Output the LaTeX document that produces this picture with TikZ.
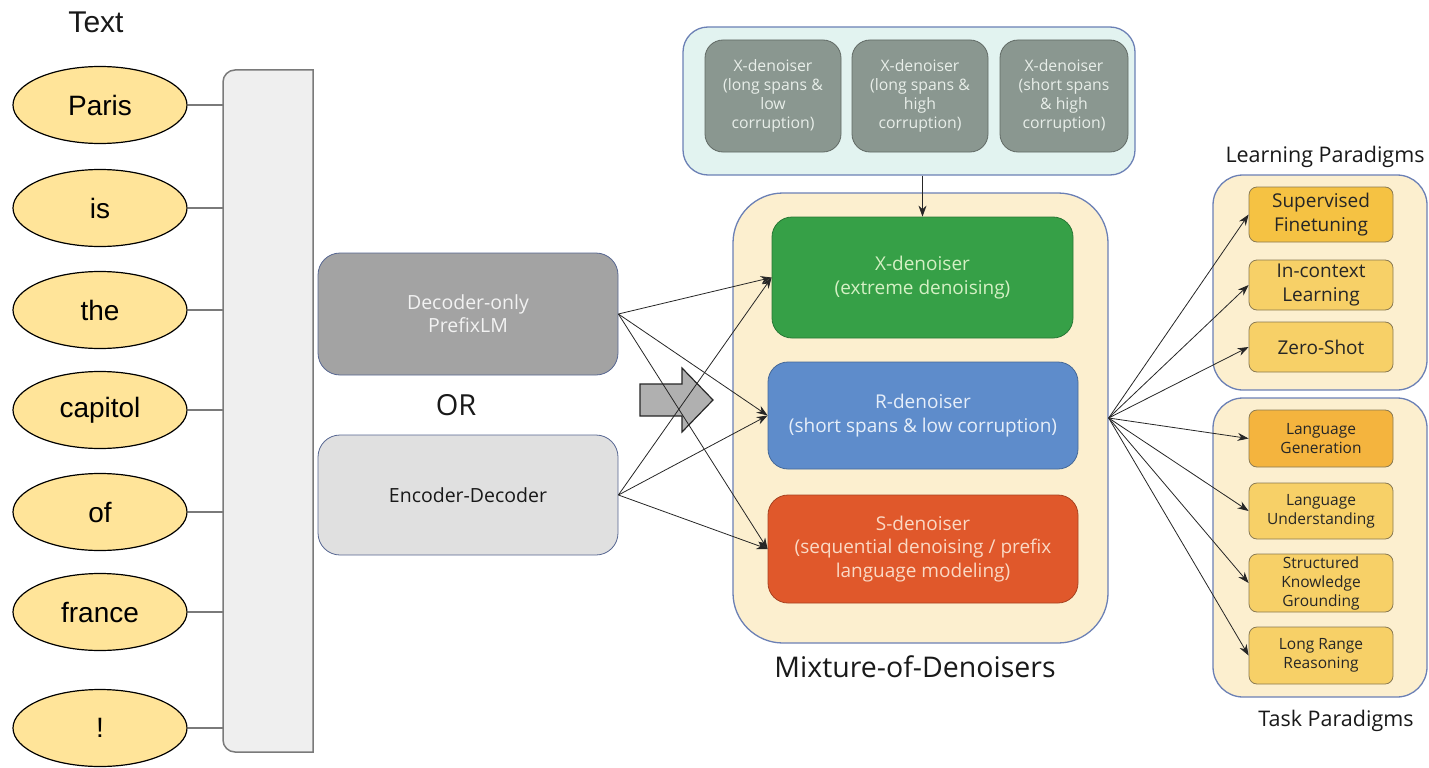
\documentclass[tikz,border=0pt]{standalone}
\usepackage{fontspec}
\setmainfont{Open Sans}
\newfontfamily\arialfont{Liberation Sans}
\usetikzlibrary{arrows.meta,shapes.geometric}

\definecolor{tokfill}{HTML}{FFE499}
\definecolor{barfill}{HTML}{EFEFEF}
\definecolor{barline}{HTML}{7A7A7A}
\definecolor{poolfill}{HTML}{E2F3F0}
\definecolor{ctrline}{HTML}{6B80B5}
\definecolor{xsubfill}{HTML}{8A9790}
\definecolor{xsubtext}{HTML}{E8EEE9}
\definecolor{modfill}{HTML}{FCEFCF}
\definecolor{xgreen}{HTML}{36A047}
\definecolor{xgreentext}{HTML}{D4F0C4}
\definecolor{rblue}{HTML}{5E8CCB}
\definecolor{rbluetext}{HTML}{E6EEF9}
\definecolor{sorange}{HTML}{E0582B}
\definecolor{sorangetext}{HTML}{FAD9C5}
\definecolor{decfill}{HTML}{A3A3A3}
\definecolor{dectext}{HTML}{F2F2F2}
\definecolor{encfill}{HTML}{E0E0E0}
\definecolor{parlight}{HTML}{F7D067}
\definecolor{pardark}{HTML}{F5C243}
\definecolor{pargen}{HTML}{F4B43E}
\definecolor{parline}{HTML}{8A7A52}
\definecolor{wire}{HTML}{262626}

\newcommand{\fsz}[2]{\fontsize{#1}{#2}\selectfont}

\begin{document}
\begin{tikzpicture}[x=1pt,y=-1pt,
  token/.style={ellipse, draw=black, line width=1.2pt, fill=tokfill,
    minimum width=174pt, minimum height=77pt, inner sep=0pt,
    font=\arialfont\fsz{28}{32}},
  tokwire/.style={draw=barline, line width=1.5pt},
  container/.style={draw=ctrline, line width=1.3pt, inner sep=0pt},
  box/.style={rectangle, inner sep=0pt, align=center, line width=0.8pt},
  xsub/.style={box, fill=xsubfill, draw=xsubfill!70!black, rounded corners=18pt,
    minimum height=112pt, text=xsubtext, font=\fsz{15.8}{19}},
  denoiser/.style={box, rounded corners=20pt, font=\fsz{19}{24}},
  arch/.style={box, draw=ctrline!80!black, rounded corners=22pt,
    minimum width=300pt, font=\fsz{19.5}{23}},
  paradigm/.style={box, draw=parline, rounded corners=8pt, minimum width=144pt,
    fill=parlight, text=black!85},
  link/.style={draw=wire, line width=0.8pt, -{Stealth[length=11pt,width=8pt]}},
  label/.style={inner sep=0pt, text=black!90}
]
\useasboundingbox (0,0) rectangle (1429,768);

% ---- input tokens and the shared bar ----
\node[label, font=\arialfont\fsz{30}{34}] (texthead) at (96,22) {Text};

\filldraw[fill=barfill, draw=barline, line width=1.5pt]
  (313,70) -- (235,70) arc[start angle=270, end angle=180, radius=12]
  -- (223,740) arc[start angle=180, end angle=90, radius=12]
  -- (313,752) -- cycle;
\coordinate (barL) at (223,400);

\foreach \name/\word/\yy in {t1/Paris/105, t2/is/208, t3/the/310, t4/capitol/410,
                            t5/of/512, t6/france/612, t7/!/728}{
  \node[token] (\name) at (100,\yy) {\word};
  \draw[tokwire] (\name.east) -- (\name.east -| barL);
}

% ---- architectures ----
\node[arch, fill=decfill, text=dectext, minimum height=122pt] (dec) at (468,314)
  {Decoder-only\\PrefixLM};
\node[label, font=\fsz{29}{32}] (orlabel) at (456,405) {OR};
\node[arch, fill=encfill, text=black!90, minimum height=120pt] (encdec) at (468,495)
  {Encoder-Decoder};

% block arrow
\filldraw[fill=black!31, draw=black!85, line width=1.2pt]
  (640,384) -- (682,384) -- (682,368) -- (713,400) -- (682,432)
  -- (682,416) -- (640,416) -- cycle;

% ---- X-denoiser variants ----
\node[container, fill=poolfill, rounded corners=25pt, minimum width=452pt,
  minimum height=148pt] (xpool) at (909,101) {};
\node[xsub, minimum width=136pt] (xa) at (773,96)
  {X-denoiser\\(long spans \&\\low\\corruption)};
\node[xsub, minimum width=136pt] (xb) at (920,96)
  {X-denoiser\\(long spans \&\\high\\corruption)};
\node[xsub, minimum width=128pt] (xc) at (1064,96)
  {X-denoiser\\(short spans\\\& high\\corruption)};

% ---- mixture of denoisers ----
\node[container, fill=modfill, rounded corners=50pt, minimum width=375pt,
  minimum height=450pt] (mod) at (920.5,418) {};
\node[denoiser, fill=xgreen, draw=xgreen!75!black, text=xgreentext,
  minimum width=301pt, minimum height=121pt] (xden) at (922.5,277.5)
  {X-denoiser\\(extreme denoising)};
\node[denoiser, fill=rblue, draw=rblue!75!black, text=rbluetext,
  minimum width=310pt, minimum height=107pt] (rden) at (923,415.5)
  {R-denoiser\\(short spans \& low corruption)};
\node[denoiser, fill=sorange, draw=sorange!75!black, text=sorangetext,
  minimum width=310pt, minimum height=108pt, font=\fsz{19}{23.5}] (sden) at (923,549)
  {S-denoiser\\(sequential denoising / prefix\\language modeling)};
\node[label, font=\fsz{28.5}{32}] (modlabel) at (915,667) {Mixture-of-Denoisers};

% ---- paradigms ----
\node[container, fill=modfill, rounded corners=30pt, minimum width=214pt,
  minimum height=215pt] (learn) at (1320,282.5) {};
\node[label, font=\fsz{21.5}{24}] (learnlabel) at (1325,157) {Learning Paradigms};
\node[paradigm, fill=pardark, minimum height=55pt, font=\fsz{19}{24}] (sf) at (1321,214.5)
  {Supervised\\Finetuning};
\node[paradigm, minimum height=50pt, font=\fsz{19}{24}] (ic) at (1321,285)
  {In-context\\Learning};
\node[paradigm, minimum height=50pt, font=\fsz{19}{24}] (zs) at (1321,347)
  {Zero-Shot};

\node[container, fill=modfill, rounded corners=30pt, minimum width=214pt,
  minimum height=299pt] (task) at (1320,547.5) {};
\node[label, font=\fsz{21.5}{24}] (tasklabel) at (1336,721) {Task Paradigms};
\node[paradigm, fill=pargen, minimum height=57pt, font=\fsz{15.5}{19}] (lg) at (1321,438.5)
  {Language\\Generation};
\node[paradigm, minimum height=56pt, font=\fsz{15.5}{19}] (lu) at (1321,511)
  {Language\\Understanding};
\node[paradigm, minimum height=58pt, font=\fsz{15.5}{19}] (skg) at (1321,583)
  {Structured\\Knowledge\\Grounding};
\node[paradigm, minimum height=57pt, font=\fsz{15.5}{19}] (lrr) at (1321,655.5)
  {Long Range\\Reasoning};

% ---- connectors ----
\draw[link] (xden.north |- xpool.south) -- (xden.north);

\foreach \src in {dec, encdec}{
  \foreach \dst in {xden, rden, sden}{
    \draw[link] (\src.east) -- (\dst.west);
  }
}

\foreach \dst in {sf, ic, zs, lg, lu, skg, lrr}{
  \draw[link] (mod.east) -- (\dst.west);
}
\end{tikzpicture}
\end{document}
